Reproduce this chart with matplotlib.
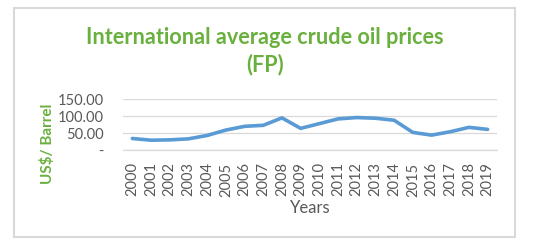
import matplotlib
matplotlib.use("Agg")
import matplotlib.pyplot as plt
from matplotlib.patches import Rectangle

years = [str(y) for y in range(2000, 2020)]
prices = [34, 29, 30, 33, 43, 59, 70, 73, 95, 64, 78, 92, 96, 94, 88, 52, 44, 54, 67, 61]
y_ticks = [0, 50, 100, 150]
y_tick_labels = ["-", "50.00", "100.00", "150.00"]

green = "#6AB03E"
gray = "#595959"
plt.rcParams['font.family'] = ['Lato', 'DejaVu Sans']

W, H = 537, 247
fig = plt.figure(figsize=(W / 100, H / 100), dpi=100)
fig.patch.set_facecolor("white")

# outer frame
fig.patches.append(Rectangle((14 / W, 1 - 237 / H), (515 - 14) / W, (237 - 8) / H,
                             transform=fig.transFigure, fill=False,
                             edgecolor="#D9D9D9", linewidth=1.5))

ax = fig.add_axes([123 / W, 1 - 150 / H, (497 - 123) / W, (150 - 99.3) / H])
x = list(range(len(years)))
ax.plot(x, prices, color="#5B9BD5", linewidth=2.6, solid_capstyle="round")
ax.set_xlim(-0.5, len(years) - 0.5)
ax.set_ylim(0, 150)
ax.set_yticks(y_ticks)
ax.set_yticklabels(y_tick_labels)
ax.set_xticks(x)
ax.set_xticklabels(years, rotation=90)
ax.tick_params(axis="both", length=0, labelsize=10.5, labelcolor=gray)
ax.tick_params(axis="x", pad=9)
ax.tick_params(axis="y", pad=14)
for lbl in ax.get_yticklabels():
    lbl.set_horizontalalignment("right")
ax.grid(axis="y", color="#D9D9D9", linewidth=0.9)
ax.set_axisbelow(True)
for s in ["top", "right", "left"]:
    ax.spines[s].set_visible(False)
ax.spines["bottom"].set_color("#D9D9D9")
ax.spines["bottom"].set_linewidth(0.9)

fig.text(265 / W, 1 - 37 / H, "International average crude oil prices",
         ha="center", va="center", fontsize=15.6, fontweight="bold", color=green)
fig.text(265 / W, 1 - 65 / H, "(FP)",
         ha="center", va="center", fontsize=15.6, fontweight="bold", color=green)
fig.text(47 / W, 1 - 144 / H, "US$/ Barrel", rotation=90,
         ha="center", va="center", fontsize=11, fontweight="bold", color=green)
fig.text(310 / W, 1 - 208 / H, "Years", ha="center", va="center",
         fontsize=12, color=gray)

fig.savefig("out.png", dpi=100, facecolor="white")
